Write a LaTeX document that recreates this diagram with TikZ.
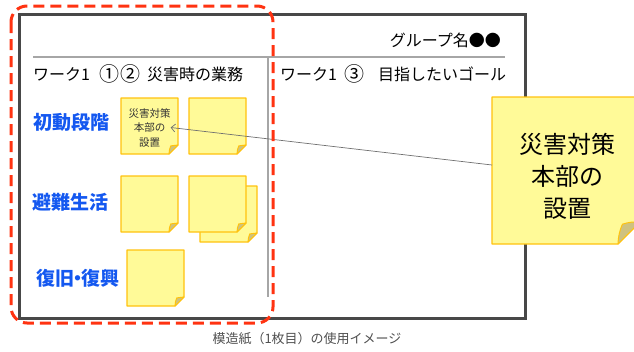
\documentclass[tikz,border=0pt]{standalone}
\usepackage{fontspec}
\setmainfont{Noto Sans CJK JP}
\usetikzlibrary{arrows.meta}
\definecolor{boxgray}{HTML}{484848}
\definecolor{sepgray}{HTML}{A6A6A6}
\definecolor{redd}{HTML}{FF3311}
\definecolor{paperfill}{HTML}{FFFA98}
\definecolor{paperline}{HTML}{FFC20E}
\definecolor{foldfill}{HTML}{CFC27F}
\definecolor{stageblue}{HTML}{1458F0}
\definecolor{capgray}{HTML}{505050}
\definecolor{linkgray}{HTML}{707070}
\tikzset{
  paper/.style={fill=paperfill, draw=paperline, line width=1.2pt, line join=round},
  foldc/.style={fill=foldfill, draw=paperline, line width=1pt, line join=round},
  stage/.style={anchor=west, inner sep=0pt, text=stageblue, font=\fontsize{19}{22}\selectfont\bfseries},
  head/.style={inner sep=0pt, text=black, font=\fontsize{16}{19}\selectfont},
  circ/.style={inner sep=0pt, text=black, font=\fontsize{20}{22}\selectfont},
  smalltxt/.style={inner sep=0pt, align=center, text=black!80, font=\fontsize{10.5}{14.5}\selectfont},
  bigtxt/.style={inner sep=0pt, align=center, text=black, font=\fontsize{24}{32}\selectfont},
  captxt/.style={inner sep=0pt, text=capgray, font=\fontsize{13}{15}\selectfont},
}
\newcommand\stickypaper[5]{%
  \filldraw[paper] (#1,#2) -- ++(#3,0) -- ++(0,#4-#5) -- ++(-#5,#5) -- ++(#5-#3,0) -- cycle;
  \filldraw[foldc] (#1+#3,#2+#4-#5) to[bend right=10] (#1+#3-0.8*#5,#2+#4-0.9*#5)
     to[bend right=10] (#1+#3-#5,#2+#4) -- cycle;
}
\begin{document}
\begin{tikzpicture}[x=1pt,y=-1pt]
\useasboundingbox (0,0) rectangle (634,351);
\clip (0,0) rectangle (634,351);
% outer sheet
\draw[boxgray, line width=3pt] (19,14) rectangle (525,318);
\draw[sepgray, line width=1.5pt] (33,57) -- (505,57);
\draw[sepgray, line width=1.5pt] (268,57) -- (268,297);
% headings
\node[head, anchor=east] (grp) at (501,40) {グループ名●●};
\node[head, anchor=west] (w12a) at (33,74) {ワーク1};
\node[circ, anchor=west] (w12b) at (99,74) {①\hspace{1pt}②};
\node[head, anchor=west] (w12c) at (147,74) {災害時の業務};
\node[head, anchor=west] (w3a) at (280,74) {ワーク1};
\node[circ, anchor=west] (w3b) at (344,74) {③};
\node[head, anchor=west] (w3c) at (378,74) {目指したいゴール};
% stages
\node[stage] (s1) at (33,122) {初動段階};
\node[stage] (s2) at (32,202) {避難生活};
\node[stage] (s3) at (36,278) {復旧\hspace{-0.3em}・\hspace{-0.3em}復興};
% sticky notes
\stickypaper{121}{98}{57}{56}{9}
\stickypaper{189}{98}{57}{56}{9}
\stickypaper{121}{176}{57}{56}{9}
\stickypaper{200}{186}{57}{56}{9}
\stickypaper{189}{176}{57}{56}{9}
\stickypaper{127}{250}{57}{56}{9}
\node[smalltxt] (n1) at (149.5,127.5) {災害対策\\本部の\\設置};
% big note
\stickypaper{492}{97}{148}{147}{22}
\node[bigtxt] (big) at (567,176.5) {災害対策\\本部の\\設置};
\coordinate (bigleft) at (492,165);
\draw[linkgray, line width=0.7pt, -{Straight Barb[length=4pt,width=8pt]}] (bigleft) -- (n1.east);
% red dashed highlight
\draw[redd, line width=3pt, dash pattern=on 11pt off 6pt, rounded corners=16pt] (11,6) rectangle (273,323);
% caption
\node[captxt] (caption) at (307,339) {模造紙（1枚目）の使用イメージ};
\end{tikzpicture}
\end{document}
